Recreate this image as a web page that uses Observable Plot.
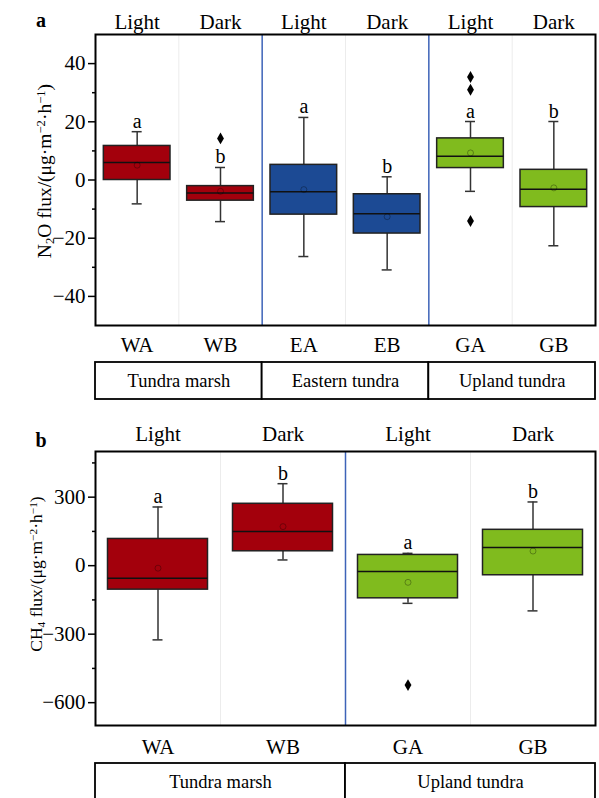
<!DOCTYPE html>
<html><head><meta charset="utf-8">
<script src="https://cdn.jsdelivr.net/npm/d3@7"></script>
<script src="https://cdn.jsdelivr.net/npm/@observablehq/plot@0.6"></script>
<style>
body{margin:0;background:#fff;}
#root{position:relative;width:599px;height:798px;overflow:hidden;font-family:"Liberation Serif","Times New Roman",serif;}
#root svg{position:absolute;left:0;overflow:visible;}
</style></head><body><div id="root"></div>
<script>
// ---------- Panel a: N2O flux ----------
const n2oSites   = ["WA","WB","EA","EB","GA","GB"];
const n2oLight   = ["Light","Dark","Light","Dark","Light","Dark"];
const n2oGroup   = ["Tundra marsh","Tundra marsh","Eastern tundra","Eastern tundra","Upland tundra","Upland tundra"];
const n2oLow     = [-8.2, -14.3, -26.3, -30.9, -3.9, -22.6];
const n2oQ1      = [0.0,  -7.1, -11.9, -18.4,  4.1,  -9.3];
const n2oMedian  = [6.0,  -4.5,  -4.0, -11.6,  8.2,  -3.2];
const n2oQ3      = [11.7, -2.1,   5.2,  -4.9, 14.3,   3.5];
const n2oHigh    = [16.6,  4.3,  21.5,   1.1, 20.1,  20.1];
const n2oMean    = [5.1,  -3.9,  -3.3, -12.6,  9.3,  -2.7];
const n2oLetters = ["a","b","a","b","a","b"];
const n2oOutSite = ["WB","GA","GA","GA"];
const n2oOutVal  = [14.3, 35.4, 31.0, -14.1];
const n2oTicks   = [-40,-20,0,20,40];
const n2oMinor   = [-30,-10,10,30];

// ---------- Panel b: CH4 flux ----------
const ch4Sites   = ["WA","WB","GA","GB"];
const ch4Light   = ["Light","Dark","Light","Dark"];
const ch4Group   = ["Tundra marsh","Tundra marsh","Upland tundra","Upland tundra"];
const ch4Low     = [-325,  25, -165, -198];
const ch4Q1      = [-105,  63, -143,  -42];
const ch4Median  = [ -55, 150,  -26,   80];
const ch4Q3      = [ 117, 271,   47,  157];
const ch4High    = [ 257, 359,   54,  279];
const ch4Mean    = [ -11, 171,  -73,   64];
const ch4Letters = ["a","b","a","b"];
const ch4OutSite = ["GA"];
const ch4OutVal  = [-523];
const ch4Ticks   = [-600,-300,0,300];
const ch4Minor   = [-450,-150,150,450];

const groupColors = {"Tundra marsh":"#a3000c","Eastern tundra":"#1c4a94","Upland tundra":"#80bb1e"};
const FONT = "Liberation Serif";
const root = document.getElementById("root");

function panel(cfg) {
  const n = cfg.sites.length;
  const rows = cfg.sites.map((s,i)=>({i, site:s, group:cfg.group[i], low:cfg.low[i], q1:cfg.q1[i],
    median:cfg.median[i], q3:cfg.q3[i], high:cfg.high[i], mean:cfg.mean[i], letter:cfg.letters[i]}));
  const outs = cfg.outSite.map((s,k)=>({i: cfg.sites.indexOf(s), value: cfg.outVal[k]}));
  const seps = [], grid = [];
  for (let i=1;i<n;i++) (cfg.group[i]!==cfg.group[i-1] ? seps : grid).push(i-0.5);
  const frameW = cfg.width - cfg.ml - cfg.mr;
  const capHalf = 5 / (frameW / n);
  const bh = 0.4;
  const groups = [...new Set(cfg.group)];
  const svg = Plot.plot({
    width: cfg.width, height: cfg.height,
    marginLeft: cfg.ml, marginRight: cfg.mr, marginTop: cfg.mt, marginBottom: cfg.mb,
    style: {fontFamily: FONT, fontSize: "20px", background: "transparent", color: "black"},
    x: {type: "linear", domain: [-0.5, n-0.5]},
    y: {domain: cfg.domain},
    color: {domain: groups, range: groups.map(g=>groupColors[g])},
    marks: [
      Plot.ruleX(grid, {stroke: "#ececec", strokeWidth: 1}),
      Plot.ruleX(seps, {stroke: "#3d63b8", strokeWidth: 1.5}),
      Plot.ruleX(rows, {x: "i", y1: "low", y2: "q1", stroke: "#333", strokeWidth: 1.5}),
      Plot.ruleX(rows, {x: "i", y1: "q3", y2: "high", stroke: "#333", strokeWidth: 1.5}),
      Plot.ruleY(rows, {y: "low", x1: d=>d.i-capHalf, x2: d=>d.i+capHalf, stroke: "#333", strokeWidth: 1.5}),
      Plot.ruleY(rows, {y: "high", x1: d=>d.i-capHalf, x2: d=>d.i+capHalf, stroke: "#333", strokeWidth: 1.5}),
      Plot.rect(rows, {x1: d=>d.i-bh, x2: d=>d.i+bh, y1: "q1", y2: "q3", fill: "group", stroke: "#222", strokeWidth: 1.5}),
      Plot.ruleY(rows, {y: "median", x1: d=>d.i-bh, x2: d=>d.i+bh, stroke: "#111", strokeWidth: 1.5}),
      Plot.dot(rows, {x: "i", y: "mean", r: 3, stroke: "#000", strokeOpacity: 0.3, strokeWidth: 1}),
      Plot.dot(outs, {x: "i", y: "value", symbol: "diamond", r: 3.6, fill: "black", stroke: "none"}),
      Plot.text(rows, {x: "i", y: "high", text: "letter", lineAnchor: "bottom", dy: -4, fontSize: 20}),
      Plot.axisY({ticks: cfg.ticks, tickSize: 7, tickPadding: 3, strokeWidth: 1.5, label: null}),
      Plot.axisY({ticks: cfg.minor, tickSize: 3, tickFormat: ()=>"", strokeWidth: 1.5, label: null}),
      Plot.axisX({anchor: "bottom", ticks: d3.range(n), tickSize: 0, tickPadding: cfg.padB, tickFormat: i=>cfg.sites[i], label: null}),
      Plot.axisX({anchor: "top", ticks: d3.range(n), tickSize: 0, tickPadding: cfg.padT, tickFormat: i=>cfg.light[i], label: null}),
      Plot.frame({stroke: "black", strokeWidth: 2})
    ]
  });
  svg.style.top = cfg.top + "px";
  root.appendChild(svg);
  const s = d3.select(svg);
  // enlarge axis tick labels
  s.selectAll("g[aria-label$='tick label']").style("font-size", "21px");
  // panel letter
  s.append("text").attr("x", 41).attr("y", cfg.letterY).attr("text-anchor","middle")
    .attr("font-weight","bold").style("font-size", "20px").attr("font-family", FONT).text(cfg.panel);
  // y label with sub/superscripts
  const t = s.append("text").attr("transform", `translate(${cfg.ylx},${cfg.yly}) rotate(-90)`)
    .attr("text-anchor","middle").style("font-size", cfg.ylSize + "px").attr("font-family", FONT);
  cfg.ylabel.forEach(([txt, kind]) => {
    const ts = t.append("tspan").text(txt);
    if (kind === "sub") ts.attr("baseline-shift","-25%").style("font-size","65%");
    if (kind === "sup") ts.attr("baseline-shift","45%").style("font-size","65%");
  });

  // group row
  const gRows = groups.map(g => {
    const idx = cfg.group.map((x,i)=>x===g?i:-1).filter(i=>i>=0);
    return {group: g, x1: Math.min(...idx)-0.5, x2: Math.max(...idx)+0.5, xc: (Math.min(...idx)+Math.max(...idx))/2};
  });
  const gsvg = Plot.plot({
    width: cfg.width, height: 40, marginLeft: cfg.ml, marginRight: cfg.mr, marginTop: 1, marginBottom: 2,
    style: {fontFamily: FONT, fontSize: "18px", background: "transparent", color: "black"},
    x: {type: "linear", domain: [-0.5, n-0.5], axis: null},
    marks: [
      Plot.rect(gRows, {x1: "x1", x2: "x2", fill: "white", stroke: "black", strokeWidth: 1.8}),
      Plot.text(gRows, {x: "xc", text: "group", fontSize: 18.5})
    ]
  });
  gsvg.style.top = cfg.groupTop + "px";
  root.appendChild(gsvg);
}

panel({
  panel: "a", sites: n2oSites, light: n2oLight, group: n2oGroup, low: n2oLow, q1: n2oQ1, median: n2oMedian,
  q3: n2oQ3, high: n2oHigh, mean: n2oMean, letters: n2oLetters, outSite: n2oOutSite, outVal: n2oOutVal,
  ticks: n2oTicks, minor: n2oMinor, domain: [-50, 50],
  width: 599, height: 360, ml: 95, mr: 4, mt: 34, mb: 35, top: 0, padB: 12, padT: 6,
  letterY: 27, ylx: 51, yly: 171, ylSize: 19.5,
  ylabel: [["N",""],["2","sub"],["O flux/(μg·m",""],["−2","sup"],["·h",""],["−1","sup"],[")",""]],
  groupTop: 361
});
panel({
  panel: "b", sites: ch4Sites, light: ch4Light, group: ch4Group, low: ch4Low, q1: ch4Q1, median: ch4Median,
  q3: ch4Q3, high: ch4High, mean: ch4Mean, letters: ch4Letters, outSite: ch4OutSite, outVal: ch4OutVal,
  ticks: ch4Ticks, minor: ch4Minor, domain: [-700, 500],
  width: 599, height: 344, ml: 95, mr: 4, mt: 35, mb: 35, top: 416, padB: 14, padT: 11,
  letterY: 31, ylx: 42, yly: 158, ylSize: 17.5,
  ylabel: [["CH",""],["4","sub"],[" flux/(μg·m",""],["−2","sup"],["·h",""],["−1","sup"],[")",""]],
  groupTop: 762
});
</script></body></html>
